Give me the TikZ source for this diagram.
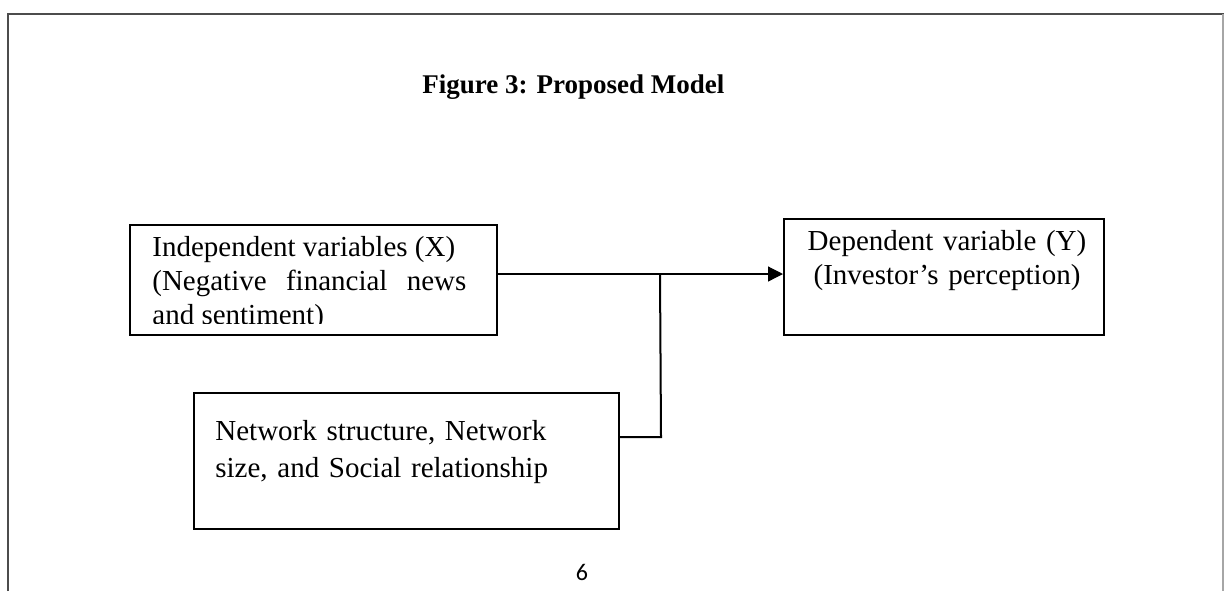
\documentclass[tikz,border=0pt]{standalone}
\usepackage{fontspec}
\setmainfont{Liberation Serif}
\newfontfamily\pagefont{Carlito}
\usetikzlibrary{arrows.meta}

\tikzset{
  box/.style={draw, line width=1pt, rectangle, inner sep=0pt},
  boxtext/.style={inner sep=0pt, font=\fontsize{14.5}{17}\selectfont},
}

\begin{document}
\begin{tikzpicture}[x=0.5pt,y=-0.5pt]
    \useasboundingbox (0,0) rectangle (1224,591);

    % Page frame
    \draw[line width=1pt, black!70] (8,591) -- (8,14) -- (1224,14);
    \draw[line width=0.8pt, black!35] (1223,14) -- (1223,591);

    % Title
    \node[anchor=base west, inner sep=0pt, font=\bfseries\fontsize{13.5}{16}\selectfont] (title) at (422,93) {Figure 3: Proposed Model};

    % Boxes
    \node[box, anchor=north west, minimum width=183.5pt, minimum height=55pt] (indep) at (129,224) {};
    \node[box, anchor=north west, minimum width=160pt, minimum height=58pt] (dep) at (783,218) {};
    \node[box, anchor=north west, minimum width=212.5pt, minimum height=68pt] (netw) at (193,392) {};

    % Box texts (last line of the first box is cut by its frame)
    \begin{scope}
        \clip (129,224) rectangle (496,323);
        \node[boxtext, anchor=base west, text width=157pt, align=justify] (indeptext) at (152,256)
            {Independent variables (X)\\ (Negative financial news and sentiment)};
    \end{scope}
    \node[boxtext, anchor=base, text width=150pt, align=center] (deptext) at (947,250)
        {Dependent variable (Y)\\ (Investor’s perception)};
    \node[boxtext, anchor=base west, text width=200pt, align=left, font=\fontsize{14.5}{18.5}\selectfont] (netwtext) at (215,440)
        {Network structure, Network\\ size, and Social relationship};

    % Connectors
    \coordinate (split) at (660,274);
    \coordinate (bend) at (661,437);
    \draw[line width=0.6pt, -{Triangle[length=7.5pt,width=7.5pt]}] (indep.east |- split) -- (dep.west |- split);
    \draw[line width=1pt] (netw.east |- bend) -- (bend) -- (split);

    % Page number
    \node[font=\pagefont\fontsize{12}{14}\selectfont] (pagenum) at (582,572) {6};
\end{tikzpicture}
\end{document}
